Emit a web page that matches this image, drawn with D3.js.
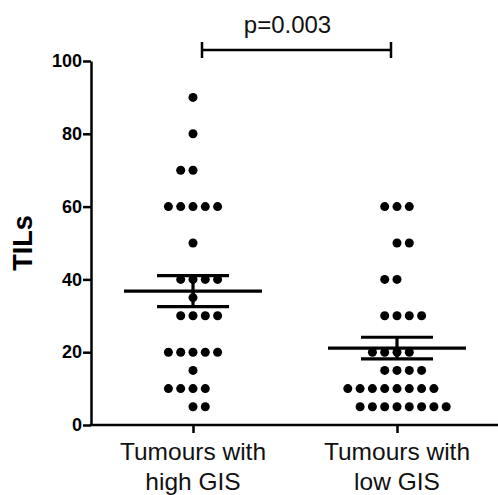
<!DOCTYPE html>
<html>
<head>
<meta charset="utf-8">
<script src="https://cdn.jsdelivr.net/npm/d3@7"></script>
<style>
  body { margin: 0; background: #fff; }
  svg { display: block; font-family: Arial, "Liberation Sans", sans-serif; }
</style>
</head>
<body>
<div id="chart"></div>
<script>
"use strict";

// TILs per tumour
var categories = ["Tumours with\nhigh GIS", "Tumours with\nlow GIS"];

var highGIS = [90, 80, 70, 70, 60, 60, 60, 60, 60, 50,
               40, 40, 40, 40, 35, 30, 30, 30, 30,
               20, 20, 20, 20, 20, 15, 10, 10, 10, 10, 5, 5];

var lowGIS = [60, 60, 60, 50, 50, 40, 40, 30, 30, 30, 30,
              20, 20, 20, 20, 15, 15, 15, 15,
              10, 10, 10, 10, 10, 10, 10, 10,
              5, 5, 5, 5, 5, 5, 5, 5];

var yTicks = [0, 20, 40, 60, 80, 100];
var yLabel = "TILs";
var pLabel = "p=0.003";

var groups = [highGIS, lowGIS];

var width = 498, height = 495;
var DOT_STEP = 12.3, DOT_R = 4.5;

var svg = d3.select("#chart")
            .append("svg")
            .attr("width", width)
            .attr("height", height);

var y = d3.scaleLinear().domain([0, 100]).range([425, 61]);
var x = d3.scalePoint().domain(categories).range([91, 499]).padding(0.5);

// y axis
var yAxis = svg.append("g")
   .attr("transform", "translate(91,0)")
   .call(d3.axisLeft(y).tickValues(yTicks).tickSize(8).tickSizeOuter(0).tickPadding(1));
yAxis.selectAll("path, line").attr("stroke", "#000").attr("stroke-width", 2.5);
yAxis.selectAll("text")
     .attr("fill", "#000")
     .style("font-size", "18px")
     .style("font-weight", "bold");

// x axis
var xAxis = svg.append("g")
   .attr("transform", "translate(0," + y(0) + ")")
   .call(d3.axisBottom(x).tickSize(8).tickSizeOuter(0).tickFormat(""));
xAxis.selectAll("path, line").attr("stroke", "#000").attr("stroke-width", 2.5);
xAxis.select(".domain").attr("d", "M89.75,0H" + width);

categories.forEach(function (c) {
  var t = svg.append("text")
     .attr("text-anchor", "middle")
     .attr("fill", "#111")
     .style("font-size", "24.5px");
  c.split("\n").forEach(function (line, i) {
    t.append("tspan")
     .attr("x", x(c))
     .attr("y", 460 + i * 30)
     .text(line);
  });
});

svg.append("text")
   .attr("transform", "translate(32," + y(50) + ") rotate(-90)")
   .attr("text-anchor", "middle")
   .style("font-size", "27px")
   .style("font-weight", "bold")
   .text(yLabel);

// dots: one row per distinct value, even rows shifted alternately
groups.forEach(function (vals, g) {
  var cx = x(categories[g]);
  var rows = d3.groups(vals, function (d) { return d; })
               .sort(function (a, b) { return a[0] - b[0]; });
  var pts = [];
  rows.forEach(function (r, i) {
    var n = r[1].length;
    var shift = (n % 2 == 0) ? (i % 2 == 0 ? 0.5 : -0.5) : 0;
    r[1].forEach(function (v, k) {
      pts.push({ v: v, off: k - (n - 1) / 2 + shift });
    });
  });

  svg.selectAll(".dots_" + g)
     .data(pts)
     .enter()
     .append("circle")
     .attr("cx", function (d) { return cx + d.off * DOT_STEP; })
     .attr("cy", function (d) { return y(d.v); })
     .attr("r", DOT_R)
     .attr("fill", "#000");

  // mean +/- SEM
  var m = d3.mean(vals);
  var sem = d3.deviation(vals) / Math.sqrt(vals.length);
  var bars = svg.append("g").attr("stroke", "#000").attr("stroke-width", 3.2);
  bars.append("line")
      .attr("x1", cx - 69).attr("x2", cx + 69)
      .attr("y1", y(m)).attr("y2", y(m));
  bars.append("line")
      .attr("x1", cx).attr("x2", cx)
      .attr("y1", y(m + sem)).attr("y2", y(m - sem));
  [m + sem, m - sem].forEach(function (v) {
    bars.append("line")
        .attr("x1", cx - 36).attr("x2", cx + 36)
        .attr("y1", y(v)).attr("y2", y(v));
  });
});

// significance bracket
var bx1 = x(categories[0]) + 9, bx2 = x(categories[1]) - 6, by = 50;
var br = svg.append("g").attr("stroke", "#000").attr("stroke-width", 2.5);
br.append("line").attr("x1", bx1).attr("x2", bx2).attr("y1", by).attr("y2", by);
br.append("line").attr("x1", bx1).attr("x2", bx1).attr("y1", by - 8).attr("y2", by + 8);
br.append("line").attr("x1", bx2).attr("x2", bx2).attr("y1", by - 8).attr("y2", by + 8);

svg.append("text")
   .attr("x", (bx1 + bx2) / 2 - 9)
   .attr("y", 33)
   .attr("text-anchor", "middle")
   .attr("fill", "#111")
   .style("font-size", "24px")
   .text(pLabel);
</script>
</body>
</html>
